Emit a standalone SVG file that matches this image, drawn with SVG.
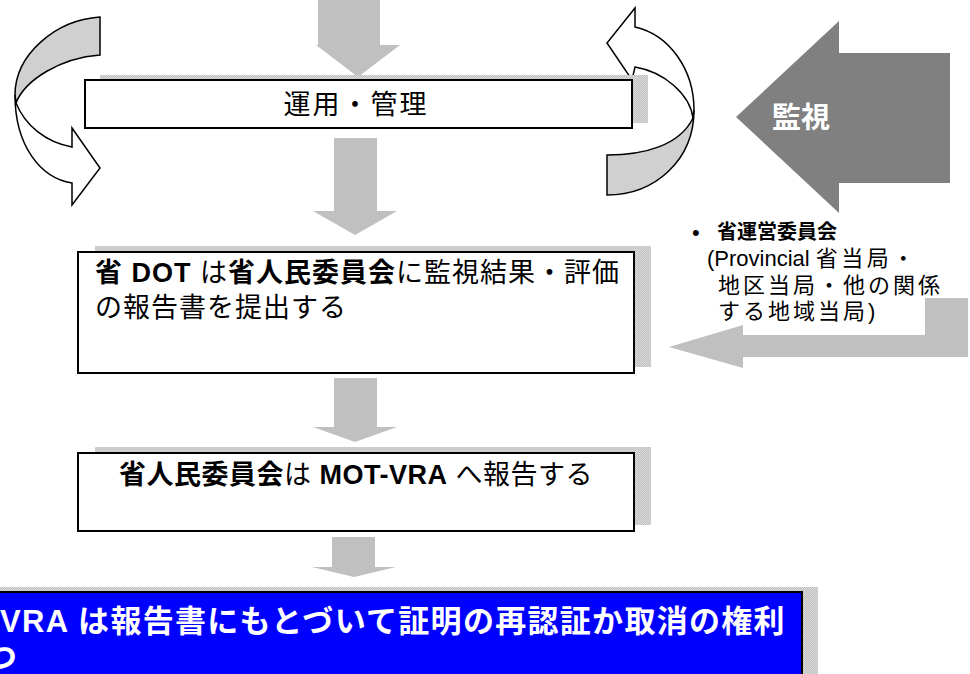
<svg xmlns="http://www.w3.org/2000/svg" width="970" height="674" viewBox="0 0 970 674">
<defs>
<pattern id="chk" width="2" height="2" patternUnits="userSpaceOnUse">
<rect width="2" height="2" fill="#c2c2c2"/>
<rect width="1" height="1" fill="#d8d8d8"/>
<rect x="1" y="1" width="1" height="1" fill="#d8d8d8"/>
</pattern>
<style>
.sh{fill:url(#chk)}
.bx{fill:#fff;stroke:#000;stroke-width:2}
.ga{fill:#c0c0c0}
.t{font-family:'Liberation Sans','Noto Sans CJK JP',sans-serif;fill:#000}
.b{font-weight:bold}
.cv{stroke:#000;stroke-width:1.5;stroke-linejoin:miter}
</style>
</defs>
<rect width="970" height="674" fill="#fff"/>

<g id="connectors">
  <polygon class="ga" points="318,0 380,0 380,45 400,45 358,77 316,45 318,45"/>
  <polygon class="ga" points="334,138 377,138 377,211 397,211 355,235 313,211 334,211"/>
  <polygon class="ga" points="334,378 377,378 377,427 397,427 355,442 313,427 334,427"/>
  <polygon class="ga" points="332,537 375,537 375,567 396,567 354,577 312,567 332,567"/>
  <polygon class="ga" points="968,298 968,357 743,357 743,368 669,347 743,325 743,335 925,335 925,298"/>
  <g id="curve-left">
    <path class="cv" fill="#d0d0d0" d="M100,17 C55,20 15,55 15,95 L16,103 C25,80 60,58 100,55 Z"/>
    <path class="cv" fill="#fff" d="M16,103 C25,125 45,142 72,147 L72,128 L100,168 L72,205 L72,183 C40,178 15,145 15,95 Z"/>
  </g>
  <g id="curve-right">
    <path class="cv" fill="#fff" d="M635,27 L635,8 L607,43 L632,80 L635,67 C665,72 690,95 693,118 L694,110 C694,70 670,35 635,27 Z"/>
    <path class="cv" fill="#d0d0d0" d="M693,118 C680,145 645,155 607,155 L607,195 C655,195 694,160 694,110 Z"/>
  </g>
</g>

<g id="monitor">
  <polygon fill="#808080" points="950,53 839,53 839,21 736,117 839,213 839,183 950,183"/>
  <text class="t b" x="801" y="128" font-size="29" style="fill:#fff" text-anchor="middle">監視</text>
</g>

<g id="node-operation">
  <rect class="sh" x="100" y="75" width="548" height="48"/>
  <rect class="bx" x="85" y="80" width="547" height="48"/>
  <text class="t" x="356" y="114" font-size="27" letter-spacing="2" text-anchor="middle">運用・管理</text>
</g>

<g id="node-dot">
  <rect class="sh" x="95" y="246" width="556" height="121"/>
  <rect class="bx" x="78" y="252" width="556" height="121"/>
  <text class="t" x="95" y="282" font-size="27" letter-spacing="1"><tspan class="b">省 DOT</tspan> は<tspan class="b">省人民委員会</tspan>に監視結果・評価</text>
  <text class="t" x="95" y="317" font-size="27" letter-spacing="1">の報告書を提出する</text>
</g>

<g id="node-ppc">
  <rect class="sh" x="95" y="447" width="556" height="78"/>
  <rect class="bx" x="78" y="453" width="556" height="78"/>
  <text class="t" x="356" y="484" font-size="27" letter-spacing="0.5" text-anchor="middle"><tspan class="b">省人民委員会</tspan>は <tspan class="b">MOT-VRA</tspan> へ報告する</text>
</g>

<g id="node-vra">
  <rect class="sh" x="-5" y="587" width="823" height="100"/>
  <rect x="-20" y="592" width="822" height="100" fill="#0000ff" stroke="#000" stroke-width="2"/>
  <text class="t b" x="0" y="632" font-size="31" letter-spacing="1.3" style="fill:#fff">VRA は報告書にもとづいて証明の再認証か取消の権利</text>
  <text class="t b" x="-14" y="668" font-size="31" style="fill:#fff">つ</text>
</g>

<g id="node-committee">
  <text class="t" x="692" y="240" font-size="22">•</text>
  <text class="t b" x="717" y="239" font-size="20">省運営委員会</text>
  <text class="t" x="707" y="266" font-size="22">(Provincial  <tspan letter-spacing="3.5">省当局・</tspan></text>
  <text class="t" x="718" y="293" font-size="22" letter-spacing="3">地区当局・他の関係</text>
  <text class="t" x="718" y="319" font-size="22" letter-spacing="3">する地域当局)</text>
</g>
</svg>
